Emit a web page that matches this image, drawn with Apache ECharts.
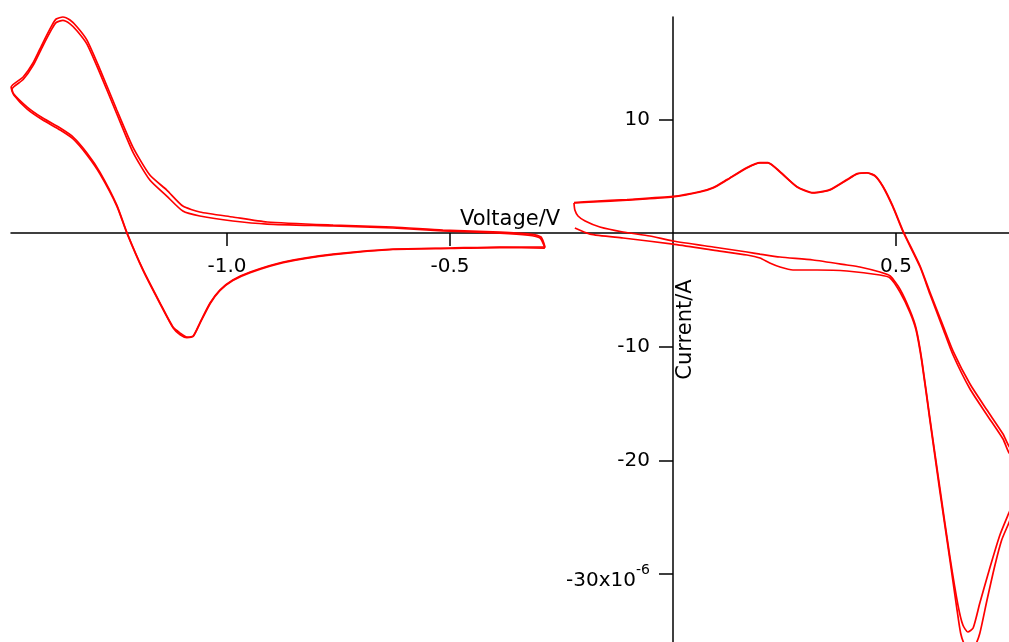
<!DOCTYPE html>
<html><head><meta charset="utf-8">
<script src="https://cdn.jsdelivr.net/npm/echarts@6/dist/echarts.min.js"></script>
<style>html,body{margin:0;padding:0;background:#fff}#c{width:1009px;height:642px}</style>
</head><body><div id="c"></div>
<script>
// Voltage (V), current (µA; axis labelled in A with x10^-6 multiplier)
const xTicks = [-1.0, -0.5, 0.5];
const yTicks = [-30, -20, -10, 10];

const leftCycle1 = [[-0.287,-1.23],[-0.296,-0.35],[-0.321,-0.09],[-0.388,0.09],[-0.516,0.26],[-0.628,0.53],[-0.762,0.70],[-0.910,0.97],[-0.987,1.41],[-1.061,1.85],[-1.099,2.37],[-1.135,3.78],[-1.173,5.10],[-1.211,7.56],[-1.247,10.82],[-1.285,14.42],[-1.314,16.97],[-1.336,18.12],[-1.352,18.73],[-1.368,19.0],[-1.383,18.82],[-1.392,18.3],[-1.413,16.71],[-1.435,14.95],[-1.457,13.72],[-1.484,12.84],
[-1.480,12.31],[-1.448,11.08],[-1.413,10.11],[-1.374,9.23],[-1.345,8.44],[-1.314,7.04],[-1.285,5.36],[-1.247,2.46],[-1.224,0],[-1.188,-3.25],[-1.150,-6.16],[-1.121,-8.27],[-1.105,-8.8],[-1.090,-9.15],[-1.076,-9.06],[-1.061,-7.92],[-1.038,-6.16],[-1.016,-5.01],[-0.987,-4.13],[-0.948,-3.43],[-0.874,-2.55],[-0.762,-1.85],[-0.628,-1.41],[-0.5,-1.32],[-0.388,-1.23],[-0.287,-1.23]];

const leftCycle2 = [[-0.287,-1.32],[-0.298,-0.44],[-0.325,-0.18],[-0.388,0.0],[-0.516,0.18],[-0.628,0.44],[-0.762,0.62],[-0.910,0.79],[-0.987,1.06],[-1.061,1.50],[-1.099,1.93],[-1.135,3.25],[-1.173,4.66],[-1.211,7.12],[-1.247,10.47],[-1.285,14.07],[-1.314,16.62],[-1.336,17.77],[-1.352,18.40],[-1.368,18.70],[-1.383,18.52],[-1.392,18.0],[-1.413,16.45],[-1.435,14.72],[-1.457,13.50],[-1.482,12.66],
[-1.478,12.14],[-1.448,10.90],[-1.413,9.94],[-1.374,9.06],[-1.345,8.27],[-1.314,6.86],[-1.285,5.20],[-1.247,2.37],[-1.224,-0.05],[-1.188,-3.30],[-1.150,-6.22],[-1.121,-8.33],[-1.105,-8.95],[-1.090,-9.20],[-1.076,-9.10],[-1.061,-7.97],[-1.038,-6.22],[-1.016,-5.06],[-0.987,-4.18],[-0.948,-3.48],[-0.874,-2.60],[-0.762,-1.90],[-0.628,-1.45],[-0.5,-1.36],[-0.388,-1.28],[-0.287,-1.32]];

const rightCycle1 = [[-0.220,0.44],[-0.186,-0.09],[-0.112,-0.44],[0.0,-0.97],[0.090,-1.50],[0.166,-1.93],[0.195,-2.20],[0.217,-2.64],[0.240,-2.99],[0.269,-3.25],[0.323,-3.25],[0.390,-3.34],[0.464,-3.69],[0.487,-3.96],[0.509,-5.19],[0.531,-6.95],[0.545,-8.53],[0.558,-11.35],[0.576,-16.45],[0.599,-22.87],[0.621,-28.76],[0.636,-32.9],[0.645,-35.2],[0.655,-36.3],[0.666,-36.7],[0.677,-36.3],[0.688,-35.2],[0.704,-32.3],[0.722,-29.2],[0.737,-27.0],[0.753,-25.5],[0.775,-23.3],[0.795,-21.5],
[0.775,-20.3],[0.753,-19.3],[0.740,-18.12],[0.704,-16.0],[0.666,-13.72],[0.628,-10.73],[0.605,-8.36],[0.576,-5.36],[0.554,-2.99],[0.516,0.09],[0.493,2.29],[0.471,4.05],[0.453,5.01],[0.435,5.28],[0.413,5.19],[0.390,4.66],[0.352,3.78],[0.314,3.52],[0.278,4.05],[0.240,5.36],[0.213,6.16],[0.195,6.16],[0.166,5.72],[0.121,4.66],[0.090,3.96],[0.061,3.61],[0.0,3.17],[-0.103,2.90],[-0.179,2.73],[-0.222,2.64]];

const rightCycle2 = [[-0.222,2.64],[-0.220,2.02],[-0.213,1.50],[-0.197,1.06],[-0.164,0.53],[-0.112,0.09],[-0.052,-0.26],[0.0,-0.70],[0.090,-1.23],[0.166,-1.67],[0.195,-1.85],[0.240,-2.11],[0.314,-2.37],[0.390,-2.81],[0.419,-2.99],[0.464,-3.43],[0.487,-3.78],[0.509,-4.93],[0.531,-6.77],[0.545,-8.36],[0.558,-11.17],[0.576,-16.27],[0.599,-22.60],[0.621,-28.50],[0.639,-32.72],[0.650,-34.48],[0.661,-35.09],[0.673,-34.74],[0.688,-32.54],[0.711,-29.38],[0.733,-26.56],[0.753,-24.63],[0.775,-22.6],[0.795,-21.0],
[0.775,-19.8],[0.753,-18.73],[0.740,-17.68],[0.704,-15.57],[0.666,-13.28],[0.628,-10.38],[0.605,-8.09],[0.576,-5.19],[0.554,-2.90],[0.516,0.18],[0.493,2.37],[0.471,4.10],[0.453,5.05],[0.435,5.30],[0.413,5.22],[0.390,4.70],[0.352,3.82],[0.314,3.55],[0.278,4.08],[0.240,5.40],[0.213,6.20],[0.195,6.20],[0.166,5.76],[0.121,4.70],[0.090,4.00],[0.061,3.65],[0.0,3.22],[-0.103,2.95],[-0.179,2.78],[-0.222,2.68]];

const FONT = 'DejaVu Sans';
const X_MIN = -1.4843, X_MAX = 0.7534, Y_MIN = -35.97, Y_MAX = 19.0;
const GRID = {left: 11, top: 17, right: 0, bottom: 0};
const W = 1009, H = 642;
// offsets that put each axis at the other axis's zero
const xOffset = -((H - GRID.bottom) - (GRID.top + (Y_MAX - 0) / (Y_MAX - Y_MIN) * (H - GRID.top - GRID.bottom)));
const yOffset = -((0 - X_MIN) / (X_MAX - X_MIN) * (W - GRID.left - GRID.right));

const chart = echarts.init(document.getElementById('c'), null, {renderer: 'canvas'});
const lineSeries = (data) => ({
  type: 'line', data: data, showSymbol: false, smooth: 0.2, clip: false,
  lineStyle: {color: '#ff0000', width: 1.7}, itemStyle: {color: '#ff0000'}
});
chart.setOption({
  animation: false,
  backgroundColor: '#fff',
  grid: Object.assign({containLabel: false, outerBoundsMode: 'none'}, GRID),
  xAxis: {
    type: 'value', min: X_MIN, max: X_MAX, position: 'bottom', offset: xOffset,
    name: 'Voltage/V', nameLocation: 'middle', nameGap: -3, nameMoveOverlap: false,
    nameTextStyle: {color: '#000', fontSize: 21, fontFamily: FONT, verticalAlign: 'bottom'},
    axisLine: {onZero: false, lineStyle: {color: '#000', width: 1.5}},
    axisTick: {show: true, length: 13, customValues: xTicks, lineStyle: {color: '#000', width: 1.5}},
    axisLabel: {customValues: xTicks, margin: 24, color: '#000', fontSize: 20, fontFamily: FONT,
      formatter: v => v.toFixed(1)},
    splitLine: {show: false}
  },
  yAxis: {
    type: 'value', min: Y_MIN, max: Y_MAX, position: 'left', offset: yOffset,
    name: 'Current/A', nameLocation: 'middle', nameGap: -23, nameRotate: 90, nameMoveOverlap: false,
    nameTextStyle: {color: '#000', fontSize: 21, fontFamily: FONT},
    axisLine: {onZero: false, lineStyle: {color: '#000', width: 1.5}},
    axisTick: {show: true, length: 14, customValues: yTicks, lineStyle: {color: '#000', width: 1.5}},
    axisLabel: {customValues: yTicks, margin: 23, color: '#000', fontSize: 20, fontFamily: FONT,
      formatter: v => v === -30 ? '{a|-30x10}{s|-6}' : String(v),
      rich: {
        a: {fontSize: 20, fontFamily: FONT, color: '#000', lineHeight: 22, padding: [13, 0, 0, 0]},
        s: {fontSize: 14, fontFamily: FONT, color: '#000', lineHeight: 16, verticalAlign: 'top'}
      }},
    splitLine: {show: false}
  },
  series: [lineSeries(leftCycle1), lineSeries(leftCycle2), lineSeries(rightCycle1), lineSeries(rightCycle2)]
});
</script></body></html>
